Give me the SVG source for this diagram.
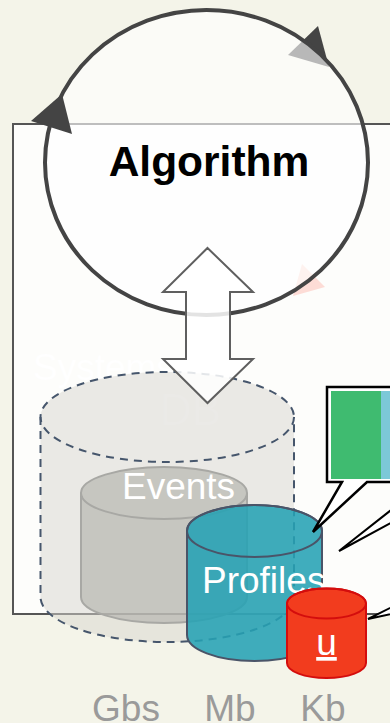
<svg xmlns="http://www.w3.org/2000/svg" width="390" height="723" viewBox="0 0 390 723">
<style>
text{font-family:"Liberation Sans",Arial,sans-serif;font-size:37px}
.w{fill:#fff}
.lab{fill:#9a9a9a;text-anchor:middle}
.call{fill:#fff;stroke:#000;stroke-width:2}
.tri{fill:#444}
</style>
<rect width="390" height="723" fill="#f4f4e9"/>
<g id="system">
<rect x="13" y="124" width="400" height="490" fill="#fdfdfb" stroke="#555" stroke-width="2"/>
<text x="33" y="380" class="w">Systems</text>
</g>
<g id="algorithm">
<polygon points="302,264 325,287 293,296" fill="#ff8a75" opacity=".28"/>
<polygon class="tri" points="318,26 329,67 288,55"/>
<ellipse cx="206.500" cy="162.500" rx="161.500" ry="152.500" fill="#fff" fill-opacity=".62" stroke="none"/>
<ellipse cx="206.500" cy="162.500" rx="161.500" ry="152.500" fill="none" stroke="#444" stroke-width="4"/>
<polygon class="tri" points="31,121 62,94 72,134"/>
<text x="209" y="176" text-anchor="middle" style="font-size:42.500px;font-weight:bold" fill="#000">Algorithm</text>
</g>
<g id="db">
<text x="160" y="425" class="w" opacity=".8" style="font-size:44px">DB</text>
<path d="M40.500 417A126.750 45 0 0 1 294 417V597A126.750 45 0 0 1 40.500 597Z" fill="#d8d5d0" fill-opacity=".5" stroke="none"/>
<path d="M40.500 417V597A126.750 45 0 0 0 294 597V417" fill="none" stroke="#46566c" stroke-width="2" stroke-dasharray="8 6"/>
<ellipse cx="167.250" cy="417" rx="126.750" ry="45" fill="none" stroke="#46566c" stroke-width="2" stroke-dasharray="8 6"/>
</g>
<g id="events">
<path d="M81 493V597A83 26 0 0 0 247 597V493A83 26 0 0 0 81 493Z" fill="#b6b6b0" fill-opacity=".7" stroke="#a8a8a4" stroke-width="2"/>
<path d="M81 493A83 26 0 0 0 247 493" fill="none" stroke="#a8a8a4" stroke-width="2"/>
<text x="122" y="499" class="w">Events</text>
</g>
<g id="profiles">
<path d="M187 531V635A67.500 26 0 0 0 322 635V531A67.500 26 0 0 0 187 531Z" fill="#25a2b4" fill-opacity=".88" stroke="#4a5468" stroke-width="2"/>
<ellipse cx="254.500" cy="531" rx="67.500" ry="26" fill="none" stroke="#4a5468" stroke-width="2"/>
<text x="202" y="593" class="w">Profiles</text>
</g>
<g id="u">
<path d="M287 603.500V663A39.500 15 0 0 0 366 663V603.500A39.500 15 0 0 0 287 603.500Z" fill="#f23c1e" stroke="#d40d0d" stroke-width="2"/>
<ellipse cx="326.500" cy="603.500" rx="39.500" ry="15" fill="none" stroke="#d40d0d" stroke-width="2"/>
<text x="326.500" y="655" class="w" text-anchor="middle" text-decoration="underline">u</text>
</g>
<g id="connectors">
<path class="call" style="stroke-width:2.500" d="M400 387H327V482H342L313 532L367 482H400"/>
<path class="call" d="M400 503L339 551L400 518"/>
<path class="call" d="M400 603L368 619L400 612"/>
<path d="M207.500 248L253 292H230V359H253L207.500 403L163 359H186V292H163Z" fill="#fff" fill-opacity=".85" stroke="#5f5f5f" stroke-width="2"/>
</g>
<g id="callout-fill">
<rect x="331" y="391" width="50" height="88" fill="#3fbb70"/>
<rect x="381" y="391" width="9" height="88" fill="#7cc8d8"/>
</g>
<g id="sizes">
<text x="126" y="721" class="lab">Gbs</text>
<text x="230" y="721" class="lab">Mb</text>
<text x="323" y="721" class="lab">Kb</text>
</g>
</svg>
